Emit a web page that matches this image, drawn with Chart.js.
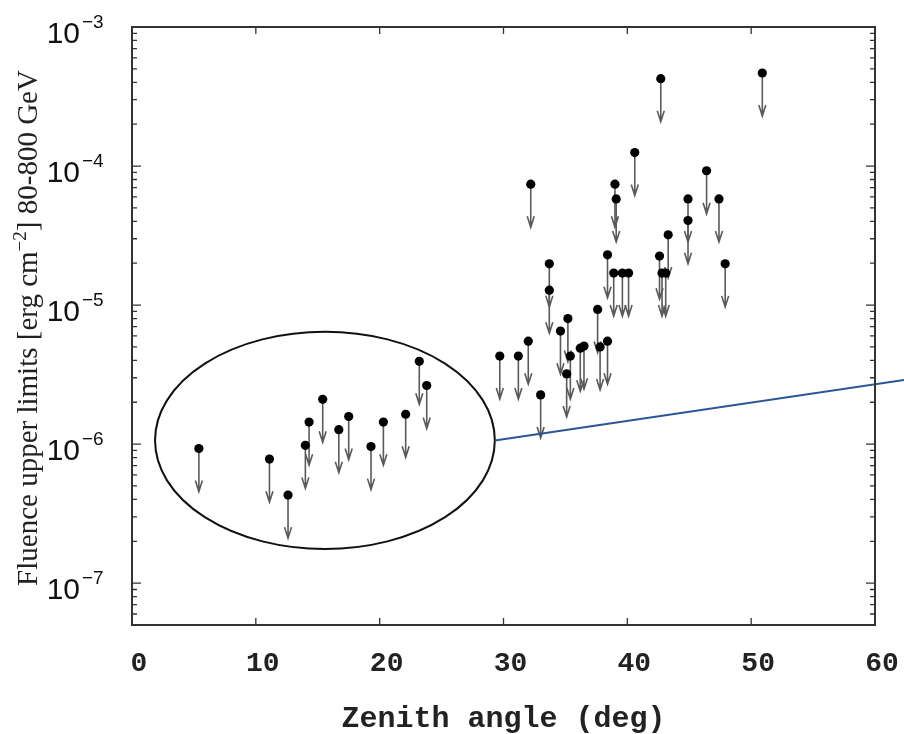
<!DOCTYPE html>
<html>
<head>
<meta charset="utf-8">
<script src="https://cdn.jsdelivr.net/npm/chart.js@4.4.1/dist/chart.umd.min.js"></script>
<style>
  html, body { margin: 0; padding: 0; background: #fff; }
  #wrap { width: 904px; height: 734px; position: relative; }
</style>
</head>
<body>
<div id="wrap"><canvas id="fluenceChart"></canvas></div>
<script>
// Data
const zenith = [5.4, 11.1, 12.6, 14.0, 14.3, 15.4, 16.7, 17.5, 19.3, 20.3, 22.1, 23.2, 23.8,
  29.7, 31.2, 32.0, 32.2, 33.0, 33.7, 33.7, 34.6, 35.1, 35.2, 35.4, 36.2, 36.5, 37.6, 37.8,
  38.4, 38.4, 38.9, 39.0, 39.1, 39.6, 40.1, 40.6, 42.6, 42.7, 42.8, 43.1, 43.3, 44.9, 44.9,
  46.4, 47.4, 47.9, 50.9];
const fluence = [9.3e-7, 7.8e-7, 4.3e-7, 9.8e-7, 1.44e-6, 2.1e-6, 1.27e-6, 1.58e-6, 9.6e-7, 1.44e-6, 1.64e-6, 3.94e-6, 2.64e-6,
  4.3e-6, 4.3e-6, 5.5e-6, 7.4e-5, 2.26e-6, 1.98e-5, 1.28e-5, 6.5e-6, 3.2e-6, 8.0e-6, 4.3e-6, 4.9e-6, 5.07e-6, 9.3e-6, 5.0e-6,
  2.3e-5, 5.5e-6, 1.7e-5, 7.4e-5, 5.8e-5, 1.7e-5, 1.7e-5, 1.25e-4, 2.25e-5, 4.25e-4, 1.7e-5, 1.7e-5, 3.2e-5, 5.8e-5, 4.05e-5,
  9.25e-5, 5.8e-5, 1.98e-5, 4.67e-4];
const xTicks = [0, 10, 20, 30, 40, 50, 60];
const yExponents = [-3, -4, -5, -6, -7];
const arrowFactor = 2.04; // arrow tip = value / arrowFactor
// ellipse around low zenith points and the line leaving it
const ellipseX = [1.86, 29.3];
const ellipseY = [1.76e-7, 6.43e-6];
const linkX = [29.3, 62.4];
const linkY = [1.06e-6, 2.9e-6];

const points = zenith.map((x, i) => ({ x: x, y: fluence[i] }));

const drawExtras = {
  id: 'drawExtras',
  beforeDatasetsDraw(chart) {
    const ctx = chart.ctx, xs = chart.scales.x, ys = chart.scales.y;
    ctx.save();
    // upper limit arrows
    ctx.strokeStyle = '#5a5a5a';
    ctx.lineWidth = 1.6;
    points.forEach(p => {
      const px = xs.getPixelForValue(p.x);
      const py = ys.getPixelForValue(p.y);
      const ty = ys.getPixelForValue(p.y / arrowFactor);
      ctx.beginPath();
      ctx.moveTo(px, py);
      ctx.lineTo(px, ty);
      ctx.moveTo(px - 3.5, ty - 11);
      ctx.lineTo(px, ty);
      ctx.lineTo(px + 3.5, ty - 11);
      ctx.stroke();
    });
    ctx.restore();
  },
  afterDraw(chart) {
    const ctx = chart.ctx, xs = chart.scales.x, ys = chart.scales.y;
    const a = chart.chartArea;
    ctx.save();
    // ellipse
    const ex0 = xs.getPixelForValue(ellipseX[0]), ex1 = xs.getPixelForValue(ellipseX[1]);
    const ey0 = ys.getPixelForValue(ellipseY[1]), ey1 = ys.getPixelForValue(ellipseY[0]);
    ctx.strokeStyle = '#111';
    ctx.lineWidth = 2;
    ctx.beginPath();
    ctx.ellipse((ex0 + ex1) / 2, (ey0 + ey1) / 2, (ex1 - ex0) / 2, (ey1 - ey0) / 2, 0, 0, Math.PI * 2);
    ctx.stroke();
    // blue link line
    ctx.strokeStyle = '#2d5596';
    ctx.lineWidth = 2;
    ctx.beginPath();
    ctx.moveTo(xs.getPixelForValue(linkX[0]), ys.getPixelForValue(linkY[0]));
    ctx.lineTo(xs.getPixelForValue(linkX[1]), ys.getPixelForValue(linkY[1]));
    ctx.stroke();
    // frame
    ctx.strokeStyle = '#333';
    ctx.lineWidth = 2;
    ctx.strokeRect(a.left, a.top, a.right - a.left, a.bottom - a.top);
    // inward ticks
    ctx.lineWidth = 1.3;
    ctx.beginPath();
    xTicks.forEach(v => {
      const px = xs.getPixelForValue(v);
      ctx.moveTo(px, a.bottom); ctx.lineTo(px, a.bottom - 7);
      ctx.moveTo(px, a.top); ctx.lineTo(px, a.top + 7);
    });
    for (let e = -8; e <= -3; e++) {
      for (let m = 1; m <= 9; m++) {
        const v = m * Math.pow(10, e);
        if (v < ys.min || v > ys.max) continue;
        const py = ys.getPixelForValue(v);
        const len = m === 1 ? 9 : 5;
        ctx.moveTo(a.left, py); ctx.lineTo(a.left + len, py);
        ctx.moveTo(a.right, py); ctx.lineTo(a.right - len, py);
      }
    }
    ctx.stroke();
    // y tick labels 10^n
    ctx.fillStyle = '#111';
    ctx.textBaseline = 'alphabetic';
    yExponents.forEach(e => {
      const py = ys.getPixelForValue(Math.pow(10, e));
      ctx.font = '30px "Liberation Sans"';
      ctx.textAlign = 'right';
      ctx.fillText('10', 80, py + 16);
      ctx.font = '19px "Liberation Sans"';
      ctx.textAlign = 'left';
      ctx.fillText('\u2212' + Math.abs(e), 82, py + 1);
    });
    // y axis title with superscript
    const parts = [
      { t: 'Fluence upper limits [erg cm', f: '29px "Liberation Serif"', dy: 0 },
      { t: '\u22122', f: '19px "Liberation Serif"', dy: -11 },
      { t: '] 80-800 GeV', f: '29px "Liberation Serif"', dy: 0 }
    ];
    let total = 0;
    parts.forEach(p => { ctx.font = p.f; p.w = ctx.measureText(p.t).width; total += p.w; });
    ctx.translate(37, (a.top + a.bottom) / 2 + 2);
    ctx.rotate(-Math.PI / 2);
    ctx.textAlign = 'left';
    ctx.fillStyle = '#222';
    let cx = -total / 2;
    parts.forEach(p => { ctx.font = p.f; ctx.fillText(p.t, cx, p.dy); cx += p.w; });
    ctx.restore();
  }
};

new Chart(document.getElementById('fluenceChart'), {
  type: 'scatter',
  data: {
    datasets: [{
      label: 'Fluence upper limits',
      data: points,
      pointRadius: 4.6,
      pointHoverRadius: 4.6,
      backgroundColor: '#000',
      borderColor: '#000',
      borderWidth: 0
    }]
  },
  options: {
    responsive: true,
    maintainAspectRatio: false,
    animation: false,
    devicePixelRatio: 1,
    layout: { padding: { top: 27, right: 29, left: 0, bottom: 0 } },
    plugins: { legend: { display: false }, tooltip: { enabled: false } },
    scales: {
      x: {
        type: 'linear',
        min: 0,
        max: 60,
        ticks: {
          stepSize: 10,
          padding: 22,
          labelOffset: 7,
          color: '#222',
          font: { family: 'Liberation Mono', size: 28, weight: 'bold' }
        },
        grid: { display: false, drawTicks: false },
        border: { display: false },
        title: {
          display: true,
          text: 'Zenith angle (deg)',
          color: '#222',
          font: { family: 'Liberation Mono', size: 30, weight: 'bold', lineHeight: 0.95 },
          padding: { top: 0, bottom: 0 }
        },
        afterFit: (scale) => {
          scale.height = 109;
          scale.paddingLeft = 0;
          scale.paddingRight = 0;
        }
      },
      y: {
        type: 'logarithmic',
        min: 5e-8,
        max: 1e-3,
        ticks: { display: false },
        grid: { display: false, drawTicks: false },
        border: { display: false },
        title: { display: false },
        afterFit: (scale) => { scale.width = 132; }
      }
    }
  },
  plugins: [drawExtras]
});
</script>
</body>
</html>
